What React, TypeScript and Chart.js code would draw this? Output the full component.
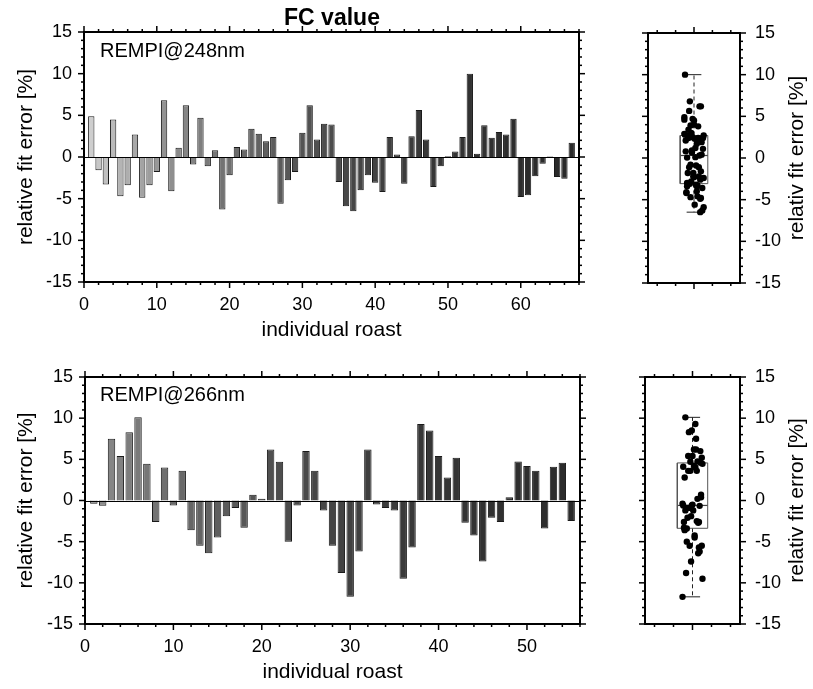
import React, { useEffect, useRef } from "react";
import { Chart, registerables } from "chart.js";
Chart.register(...registerables);

const FONT = "'Liberation Sans', Arial, Helvetica, sans-serif";
const NARROW = "'Liberation Sans Narrow', 'Liberation Sans', Arial, sans-serif";

// ---------- data ----------
const chartTitle = "FC value";
const panelLabels = ["REMPI@248nm", "REMPI@266nm"];
const xAxisTitle = "individual roast";
const yAxisTitle = "relative fit error [%]";
const boxAxisTitle = "relativ fit error [%]";

// relative fit error [%] per individual roast (1..67), REMPI@248nm
const fitErr248 = [
  4.9, -1.6, -3.3, 4.5, -4.7, -3.4, 2.7, -4.9, -3.4, -1.8,
  6.8, -4.1, 1.1, 6.2, -0.9, 4.7, -1.1, 0.8, -6.3, -2.2,
  1.2, 0.9, 3.4, 2.8, 1.9, 2.4, -5.6, -2.8, -1.8, 2.9,
  6.2, 2.1, 4.0, 3.9, -3.0, -5.9, -6.5, -4.0, -2.2, -3.1,
  -4.2, 2.4, 0.3, -3.2, 2.5, 5.65, 2.1, -3.6, -1.1, 0.1,
  0.65, 2.4, 10.0, 0.4, 3.8, 2.3, 3.0, 2.7, 4.6, -4.8,
  -4.6, -2.3, -0.8, 0.05, -2.4, -2.6, 1.7,
];
// relative fit error [%] per individual roast (1..55), REMPI@266nm
const fitErr266 = [
  -0.4, -0.65, 7.5, 5.4, 8.3, 10.1, 4.45, -2.6, 4.0, -0.6,
  3.6, -3.6, -5.5, -6.4, -4.5, -1.9, -0.9, -3.3, 0.7, 0.2,
  6.2, 4.7, -5.0, -0.6, 6.0, 3.6, -1.2, -5.5, -8.8, -11.7,
  -6.2, 6.2, -0.5, -0.9, -1.2, -9.5, -5.7, 9.3, 8.5, 5.4,
  2.8, 5.2, -2.7, -4.25, -7.4, -2.1, -2.6, 0.4, 4.75, 4.2,
  3.6, -3.4, 4.1, 4.6, -2.5,
];
const roast248 = fitErr248.map((_, i) => i + 1);
const roast266 = fitErr266.map((_, i) => i + 1);

const xTicks248 = [0, 10, 20, 30, 40, 50, 60];
const xTicks266 = [0, 10, 20, 30, 40, 50];
const yTicks = [-15, -10, -5, 0, 5, 10, 15];
const xMax248 = 68;
const xMax266 = 56;

// ---------- helpers ----------
function quantile(sorted: number[], p: number) {
  const n = sorted.length;
  const pos = n * p - 0.5;
  if (pos <= 0) return sorted[0];
  if (pos >= n - 1) return sorted[n - 1];
  const lo = Math.floor(pos);
  const f = pos - lo;
  return sorted[lo] * (1 - f) + sorted[lo + 1] * f;
}
// deterministic horizontal spread for the dot strip (display offset only)
const jitterOf = (i: number) => (((i * 53) % 29) / 28 - 0.5) * 0.21;

function gray(l: number) {
  const v = Math.max(0, Math.min(255, Math.round(l)));
  return `rgb(${v},${v},${v})`;
}
const shade248 = (i: number) => gray(28 + 178 * Math.exp(-i / 25));
const shade266 = (i: number) => gray(30 + 112 * Math.exp(-i / 25));

type TextItem = {
  text: string;
  x: number;
  y: number | "center";
  font: string;
  align?: CanvasTextAlign;
  baseline?: CanvasTextBaseline;
  rot?: number;
};

function makeFrame(cfg: {
  xTicks: { v: number; major: boolean }[];
  zeroLine: boolean;
  texts: TextItem[];
}) {
  const yT: { v: number; major: boolean }[] = [];
  for (let k = -15; k <= 15; k++) yT.push({ v: k, major: k % 5 === 0 });
  return {
    id: "frame",
    afterDatasetsDraw(chart: any) {
      if (!cfg.zeroLine) return;
      const { ctx, chartArea: a, scales } = chart;
      const y0 = Math.round(scales.y.getPixelForValue(0)) + 0.5;
      ctx.save();
      ctx.strokeStyle = "#000";
      ctx.lineWidth = 1;
      ctx.beginPath();
      ctx.moveTo(a.left, y0);
      ctx.lineTo(a.right, y0);
      ctx.stroke();
      ctx.restore();
    },
    afterDraw(chart: any) {
      const { ctx, chartArea: a, scales } = chart;
      const xs = scales.x;
      const ys = scales.y;
      ctx.save();
      ctx.strokeStyle = "#000";
      ctx.lineWidth = 1.5;
      const seg = (x1: number, y1: number, x2: number, y2: number) => {
        ctx.beginPath();
        ctx.moveTo(x1, y1);
        ctx.lineTo(x2, y2);
        ctx.stroke();
      };
      for (const t of cfg.xTicks) {
        const px = xs.getPixelForValue(t.v);
        const L = t.major ? 6 : 3;
        seg(px, a.bottom, px, a.bottom + L);
        seg(px, a.top, px, a.top - L);
      }
      for (const t of yT) {
        const py = ys.getPixelForValue(t.v);
        const L = t.major ? 6 : 3;
        seg(a.left, py, a.left - L, py);
        seg(a.right, py, a.right + L, py);
      }
      ctx.lineWidth = 2;
      ctx.strokeRect(a.left, a.top, a.right - a.left, a.bottom - a.top);
      ctx.fillStyle = "#000";
      for (const t of cfg.texts) {
        ctx.save();
        ctx.font = t.font;
        ctx.textAlign = t.align || "left";
        ctx.textBaseline = t.baseline || "alphabetic";
        const ty = t.y === "center" ? (a.top + a.bottom) / 2 : t.y;
        ctx.translate(t.x, ty);
        if (t.rot) ctx.rotate(t.rot);
        ctx.fillText(t.text, 0, 0);
        ctx.restore();
      }
      ctx.restore();
    },
  };
}

type Area = { left: number; right: number; top: number; bottom: number };

function barConfig(
  roasts: number[],
  values: number[],
  xMax: number,
  xTicks: number[],
  area: Area,
  W: number,
  H: number,
  shade: (i: number) => string,
  barPct: number,
  titlePadBottom: number,
  texts: TextItem[]
) {
  const frameTicks: { v: number; major: boolean }[] = [];
  for (let v = 0; v <= xMax; v += 2) frameTicks.push({ v, major: v % 10 === 0 });
  return {
    type: "bar",
    data: {
      datasets: [
        {
          data: roasts.map((r, i) => ({ x: r, y: values[i] })),
          backgroundColor: values.map((_, i) => shade(i)),
          borderColor: "#1a1a1a",
          borderWidth: 1,
          categoryPercentage: 1,
          barPercentage: barPct,
        },
      ],
    },
    options: {
      responsive: false,
      animation: false,
      events: [],
      layout: { padding: { left: 0, top: area.top, right: W - area.right, bottom: 0 } },
      plugins: { legend: { display: false }, tooltip: { enabled: false }, title: { display: false } },
      scales: {
        x: {
          type: "linear",
          min: 0,
          max: xMax,
          offset: false,
          afterBuildTicks: (s: any) => {
            s.ticks = xTicks.map((v) => ({ value: v }));
          },
          afterFit: (s: any) => {
            s.height = H - area.bottom;
          },
          grid: { display: false, drawTicks: false, offset: false },
          border: { display: false },
          ticks: { autoSkip: false, maxRotation: 0, padding: 12, color: "#000", font: { family: FONT, size: 18 } },
          title: {
            display: true,
            text: xAxisTitle,
            color: "#000",
            font: { family: FONT, size: 21 },
            padding: { top: 0, bottom: titlePadBottom },
          },
        },
        y: {
          type: "linear",
          min: -15,
          max: 15,
          afterBuildTicks: (s: any) => {
            s.ticks = yTicks.map((v) => ({ value: v }));
          },
          afterFit: (s: any) => {
            s.width = area.left;
          },
          grid: { display: false, drawTicks: false },
          border: { display: false },
          ticks: { padding: 12, color: "#000", font: { family: FONT, size: 18 } },
          title: {
            display: true,
            text: yAxisTitle,
            color: "#000",
            font: { family: FONT, size: 21 },
            padding: { top: 14, bottom: 0 },
          },
        },
      },
    },
    plugins: [makeFrame({ xTicks: frameTicks, zeroLine: true, texts })],
  };
}

function boxConfig(values: number[], area: Area, W: number, H: number, halfW: number) {
  const sorted = [...values].sort((a, b) => a - b);
  const q1 = quantile(sorted, 0.25);
  const med = quantile(sorted, 0.5);
  const q3 = quantile(sorted, 0.75);
  const lo = sorted[0];
  const hi = sorted[sorted.length - 1];
  const L = 1 - halfW;
  const R = 1 + halfW;
  const cap = 0.08;
  const lineDs = (data: { x: number; y: number }[], extra: any = {}) => ({
    type: "line",
    data,
    borderColor: "#444",
    borderWidth: 1,
    pointRadius: 0,
    fill: false,
    tension: 0,
    ...extra,
  });
  return {
    type: "scatter",
    data: {
      datasets: [
        {
          type: "scatter",
          data: values.map((v, i) => ({ x: 1 + jitterOf(i), y: v })),
          pointRadius: 3.2,
          backgroundColor: "#000",
          borderWidth: 0,
        },
        lineDs([
          { x: L, y: q1 },
          { x: R, y: q1 },
          { x: R, y: q3 },
          { x: L, y: q3 },
          { x: L, y: q1 },
        ], { borderColor: "#555" }),
        lineDs([
          { x: L, y: med },
          { x: R, y: med },
        ], { borderColor: "#444", borderWidth: 1.2 }),
        lineDs([
          { x: 1, y: q3 },
          { x: 1, y: hi },
        ], { borderDash: [4, 3], borderColor: "#222" }),
        lineDs([
          { x: 1, y: q1 },
          { x: 1, y: lo },
        ], { borderDash: [4, 3], borderColor: "#222" }),
        lineDs([
          { x: 1 - cap, y: hi },
          { x: 1 + cap, y: hi },
        ], { borderColor: "#222" }),
        lineDs([
          { x: 1 - cap, y: lo },
          { x: 1 + cap, y: lo },
        ], { borderColor: "#222" }),
      ],
    },
    options: {
      responsive: false,
      animation: false,
      events: [],
      layout: { padding: { left: area.left, top: area.top, right: 0, bottom: H - area.bottom } },
      plugins: { legend: { display: false }, tooltip: { enabled: false }, title: { display: false } },
      scales: {
        x: { type: "linear", min: 0.5, max: 1.5, display: false },
        y: {
          type: "linear",
          position: "right",
          min: -15,
          max: 15,
          afterBuildTicks: (s: any) => {
            s.ticks = yTicks.map((v) => ({ value: v }));
          },
          afterFit: (s: any) => {
            s.width = W - area.right;
          },
          grid: { display: false, drawTicks: false },
          border: { display: false },
          ticks: { padding: 15, color: "#000", font: { family: FONT, size: 18 } },
        },
      },
    },
    plugins: [
      makeFrame({
        xTicks: [
          { v: 0.6, major: false },
          { v: 0.8, major: false },
          { v: 1.0, major: true },
          { v: 1.2, major: false },
          { v: 1.4, major: false },
        ],
        zeroLine: false,
        texts: [
          {
            text: boxAxisTitle,
            x: 197,
            y: "center",
            font: `21px ${FONT}`,
            align: "center",
            baseline: "middle",
            rot: -Math.PI / 2,
          },
        ],
      }),
    ],
  };
}

function ChartBox({ left, top, width, height, build }: any) {
  const ref = useRef<HTMLCanvasElement | null>(null);
  useEffect(() => {
    const chart = new Chart(ref.current as HTMLCanvasElement, build() as any);
    return () => chart.destroy();
  }, []);
  return (
    <div style={{ position: "absolute", left, top, width, height }}>
      <canvas ref={ref} width={width} height={height} style={{ width, height, display: "block" }} />
    </div>
  );
}

export default function App() {
  return (
    <div style={{ position: "absolute", left: 0, top: 0, width: 813, height: 689, background: "#fff", overflow: "hidden" }}>
      <ChartBox
        left={0}
        top={0}
        width={600}
        height={345}
        build={() =>
          barConfig(
            roast248,
            fitErr248,
            xMax248,
            xTicks248,
            { left: 84, right: 579, top: 32, bottom: 282 },
            600,
            345,
            shade248,
            0.87,
            2,
            [
              { text: panelLabels[0], x: 100, y: 57, font: `20px ${FONT}` },
              { text: chartTitle, x: 332, y: 25, font: `bold 23px ${NARROW}`, align: "center" },
            ]
          )
        }
      />
      <ChartBox
        left={0}
        top={345}
        width={600}
        height={344}
        build={() =>
          barConfig(
            roast266,
            fitErr266,
            xMax266,
            xTicks266,
            { left: 85, right: 580, top: 32, bottom: 279 },
            600,
            344,
            shade266,
            0.84,
            4,
            [{ text: panelLabels[1], x: 100, y: 56, font: `20px ${FONT}` }]
          )
        }
      />
      <ChartBox
        left={600}
        top={0}
        width={213}
        height={345}
        build={() => boxConfig(fitErr248, { left: 48, right: 140, top: 33, bottom: 283 }, 213, 345, 0.15)}
      />
      <ChartBox
        left={600}
        top={345}
        width={213}
        height={344}
        build={() => boxConfig(fitErr266, { left: 45, right: 140, top: 32, bottom: 279 }, 213, 344, 0.16)}
      />
    </div>
  );
}
